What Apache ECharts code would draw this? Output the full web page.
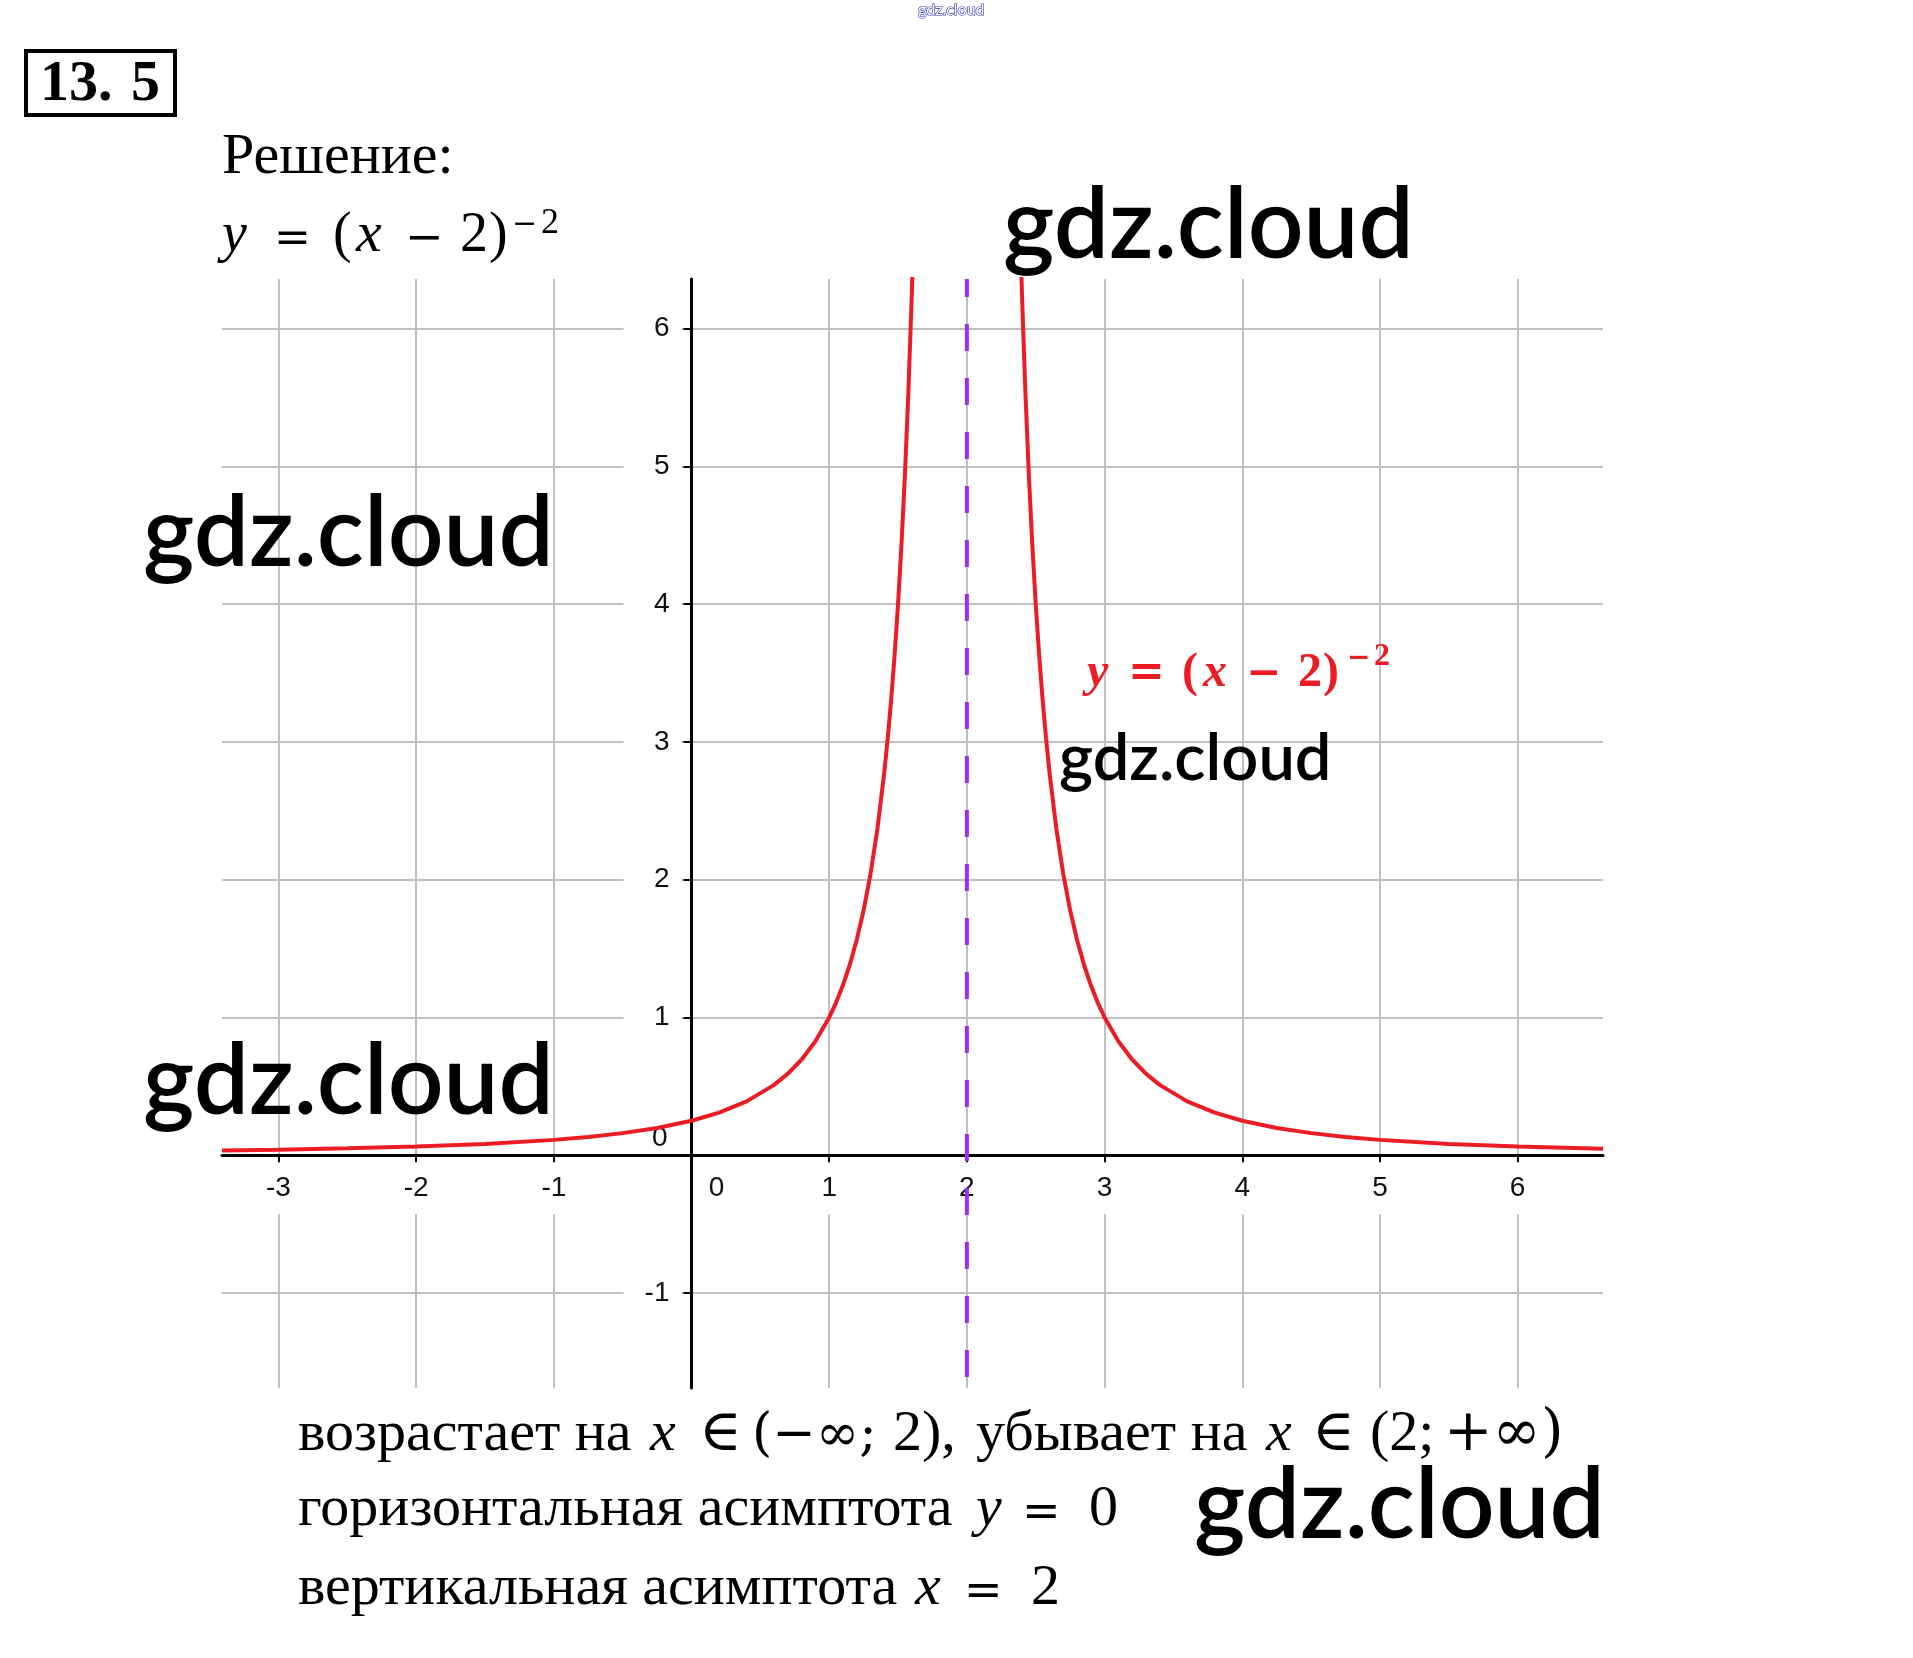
<!DOCTYPE html>
<html>
<head>
<meta charset="utf-8">
<script src="https://cdn.jsdelivr.net/npm/echarts@6/dist/echarts.min.js"></script>
<style>
html,body{margin:0;padding:0;background:#fff;}
#chart{width:1913px;height:1658px;}
</style>
</head>
<body>
<div id="chart"></div>
<script>
// ---- data ----
const xTicks = [-3, -2, -1, 0, 1, 2, 3, 4, 5, 6];
const yTicks = [-1, 0, 1, 2, 3, 4, 5, 6];
const xRange = [-3.41, 6.62];
const yRange = [-1.69, 6.36];

// left branch of y = (x-2)^-2
const leftX = [-3.41, -3, -2.5, -2, -1.5, -1, -0.75, -0.5, -0.25, 0, 0.2, 0.4, 0.6, 0.7, 0.8, 0.9, 1, 1.05, 1.1, 1.15, 1.2, 1.25, 1.3, 1.35, 1.4, 1.425, 1.45, 1.475, 1.5, 1.525, 1.55, 1.575, 1.6, 1.62];
const leftY = [0.0342, 0.04, 0.0494, 0.0625, 0.0816, 0.1111, 0.1322, 0.16, 0.1975, 0.25, 0.3086, 0.3906, 0.5102, 0.5917, 0.6944, 0.8264, 1, 1.108, 1.2346, 1.3841, 1.5625, 1.7778, 2.0408, 2.3669, 2.7778, 3.0246, 3.3058, 3.6281, 4, 4.4321, 4.9383, 5.5363, 6.25, 6.925];
// right branch
const rightX = [2.38, 2.4, 2.425, 2.45, 2.475, 2.5, 2.525, 2.55, 2.575, 2.6, 2.65, 2.7, 2.75, 2.8, 2.85, 2.9, 2.95, 3, 3.1, 3.2, 3.3, 3.4, 3.6, 3.8, 4, 4.25, 4.5, 4.75, 5, 5.5, 6, 6.62];
const rightY = [6.925, 6.25, 5.5363, 4.9383, 4.4321, 4, 3.6281, 3.3058, 3.0246, 2.7778, 2.3669, 2.0408, 1.7778, 1.5625, 1.3841, 1.2346, 1.108, 1, 0.8264, 0.6944, 0.5917, 0.5102, 0.3906, 0.3086, 0.25, 0.1975, 0.16, 0.1322, 0.1111, 0.0816, 0.0625, 0.0469];
// vertical asymptote x = 2
const asymX = [2, 2];
const asymY = [6.36, -1.69];

const zip = (a, b) => a.map((v, i) => [v, b[i]]);

const SERIF = "'Liberation Serif','DejaVu Serif',serif";
const OPS = "'DejaVu Serif','Liberation Serif',serif";
const SANS = "'Liberation Sans','DejaVu Sans',sans-serif";
const WM = "Lato,'Open Sans',sans-serif";

function T(text, x, base, size, o) {
  o = o || {};
  const k = o.k != null ? o.k : 0.31;
  return {
    type: 'text', x: x, y: base - k * size, z: 100,
    style: {
      text: text, fontSize: size, fontFamily: o.family || SERIF,
      fontWeight: o.weight || 'normal', fontStyle: o.style || 'normal',
      fill: o.fill || '#000', stroke: o.stroke, lineWidth: o.lineWidth || 0,
      align: o.align || 'left', verticalAlign: 'middle'
    }
  };
}

const RED = '#ec1c24';
const RB = { weight: 'bold', fill: RED };
const RBI = { weight: 'bold', style: 'italic', fill: RED };
const ROP = { weight: 'bold', fill: RED, family: OPS };
const graphics = [
  // title box
  { type: 'rect', shape: { x: 26, y: 51, width: 149, height: 64 }, style: { fill: 'none', stroke: '#000', lineWidth: 4 }, z: 100 },
  T('13.', 40, 103, 58, { weight: 'bold' }),
  T('5', 131, 103, 58, { weight: 'bold' }),
  T('Решение:', 222, 176, 58),
  // formula y = (x - 2)^-2
  T('y', 222, 254, 56, { style: 'italic' }),
  T('=', 274, 254, 44, { family: OPS }),
  T('(', 333, 254, 56),
  T('x', 356, 254, 58, { style: 'italic' }),
  T('−', 405, 254, 46, { family: OPS }),
  T('2', 460, 254, 56),
  T(')', 489, 254, 56),
  T('−', 512, 235, 30, { family: OPS }),
  T('2', 541, 235, 36),
  // red label on the chart
  T('y', 1087, 688, 48, RBI),
  T('=', 1128, 688, 44, ROP),
  T('(', 1182, 688, 48, RB),
  T('x', 1203, 688, 48, RBI),
  T('−', 1246, 688, 42, ROP),
  T('2', 1298, 688, 48, RB),
  T(')', 1323, 688, 48, RB),
  T('−', 1347, 667, 28, ROP),
  T('2', 1374, 667, 32, RB),
  // bottom text
  T('возрастает на', 298, 1453, 58),
  T('x', 650, 1453, 58, { style: 'italic' }),
  T('∈', 699, 1453, 58),
  T('(−∞;', 752, 1453, 52, { family: OPS }),
  T('2),', 893, 1453, 58),
  T('убывает на', 976, 1453, 58),
  T('x', 1266, 1453, 58, { style: 'italic' }),
  T('∈', 1312, 1453, 58),
  T('(2;', 1370, 1453, 58),
  T('+∞)', 1444, 1453, 58, { family: OPS }),
  T('горизонтальная асимптота', 298, 1528, 58),
  T('y', 976, 1528, 58, { style: 'italic' }),
  T('=', 1022, 1528, 46, { family: OPS }),
  T('0', 1089, 1528, 58),
  T('вертикальная асимптота', 298, 1607, 58),
  T('x', 915, 1607, 58, { style: 'italic' }),
  T('=', 964, 1607, 46, { family: OPS }),
  T('2', 1031, 1607, 58),
  // watermarks
  T('gdz.cloud', 918, 15, 16, { family: WM, fill: '#fff', stroke: '#2a2ac0', lineWidth: 1.2, k: 0.32 }),
  T('gdz.cloud', 1003, 258, 98, { family: WM, weight: 600, k: 0.32 }),
  T('gdz.cloud', 143, 566, 98, { family: WM, weight: 600, k: 0.32 }),
  T('gdz.cloud', 143, 1114, 98, { family: WM, weight: 600, k: 0.32 }),
  T('gdz.cloud', 1059, 780, 65, { family: WM, weight: 600, k: 0.32 }),
  T('gdz.cloud', 1194, 1538, 98, { family: WM, weight: 600, k: 0.32 })
];

const gridLine = { show: true, lineStyle: { color: '#c0c0c0', width: 2 } };
const LBL = 28;

// pixel offsets that move the drawn axes onto the zero lines (grid 222..1603 x 279..1388)
const xAxisOffset = -(1388 - (279 + yRange[1] * 1109 / (yRange[1] - yRange[0])));
const yAxisOffset = -(-xRange[0] * 1381 / (xRange[1] - xRange[0]));

const option = {
  backgroundColor: '#fff',
  animation: false,
  grid: { left: 222, right: 310, top: 279, bottom: 270, containLabel: false, outerBoundsMode: 'none' },
  xAxis: [
    { type: 'value', min: xRange[0], max: xRange[1], position: 'bottom', z: 0,
      axisLine: { show: false, onZero: false }, axisTick: { show: false, customValues: xTicks },
      axisLabel: { show: false }, splitLine: gridLine },
    { type: 'value', min: xRange[0], max: xRange[1], position: 'bottom', offset: xAxisOffset, z: 2,
      axisLine: { show: true, onZero: false, lineStyle: { color: '#000', width: 3 } },
      axisTick: { show: true, customValues: xTicks, length: 8, lineStyle: { color: '#000', width: 2 } },
      splitLine: { show: false },
      axisLabel: { show: true, customValues: xTicks, margin: 19, fontSize: LBL, fontFamily: SANS, color: '#111',
        formatter: v => v === 0 ? '{z|0}' : '{n|' + v + '}',
        rich: {
          n: { backgroundColor: '#fff', padding: [12, 3, 12, 3], lineHeight: 28, fontSize: LBL, fontFamily: SANS, color: '#111' },
          z: { padding: [12, 0, 12, 50], lineHeight: 28, fontSize: LBL, fontFamily: SANS, color: '#111' }
        } } }
  ],
  yAxis: [
    { type: 'value', min: yRange[0], max: yRange[1], position: 'left', z: 0,
      axisLine: { show: false, onZero: false }, axisTick: { show: false, customValues: yTicks },
      axisLabel: { show: false }, splitLine: gridLine },
    { type: 'value', min: yRange[0], max: yRange[1], position: 'left', offset: yAxisOffset, z: 2,
      axisLine: { show: true, onZero: false, lineStyle: { color: '#000', width: 3 } },
      axisTick: { show: true, customValues: yTicks, length: 8, lineStyle: { color: '#000', width: 2 } },
      splitLine: { show: false },
      axisLabel: { show: true, customValues: yTicks, margin: 10, fontSize: LBL, fontFamily: SANS, color: '#111',
        formatter: v => v === 0 ? '{z|0}' : '{n|' + v + '}',
        rich: {
          n: { backgroundColor: '#fff', width: 46, align: 'right', padding: [4, 12, 4, 0], fontSize: LBL, fontFamily: SANS, color: '#111' },
          z: { padding: [0, 14, 33, 0], fontSize: LBL, fontFamily: SANS, color: '#111' }
        } } }
  ],
  series: [
    { type: 'line', xAxisIndex: 1, yAxisIndex: 1, z: 5, data: zip(leftX, leftY), showSymbol: false, symbol: 'none',
      smooth: false, clip: true, lineStyle: { color: RED, width: 4 } },
    { type: 'line', xAxisIndex: 1, yAxisIndex: 1, z: 5, data: zip(rightX, rightY), showSymbol: false, symbol: 'none',
      smooth: false, clip: true, lineStyle: { color: RED, width: 4 } },
    { type: 'line', xAxisIndex: 1, yAxisIndex: 1, z: 6, data: zip(asymX, asymY), showSymbol: false, symbol: 'none',
      clip: true, lineStyle: { color: '#9b30f0', width: 4, type: [27, 27], dashOffset: 9 } }
  ],
  graphic: { elements: graphics }
};

const chart = echarts.init(document.getElementById('chart'), null, { renderer: 'canvas' });
chart.setOption(option);
</script>
</body>
</html>
